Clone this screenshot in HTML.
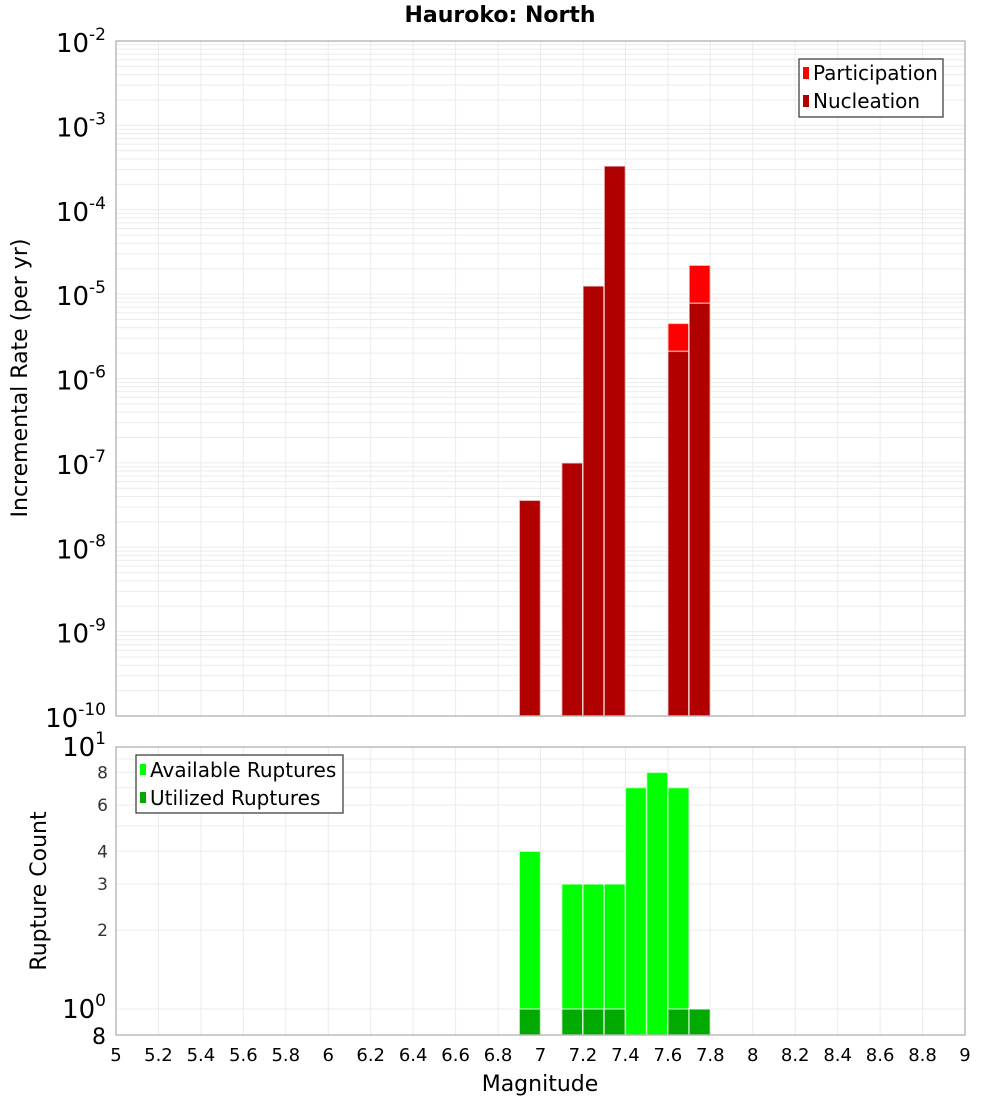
<!DOCTYPE html>
<html><head><meta charset="utf-8"><style>
body{margin:0;background:#fff;font-family:"Liberation Sans","DejaVu Sans",sans-serif;}
svg text{font-family:"DejaVu Sans","Liberation Sans",sans-serif;}
</style></head><body>
<svg id="chart" width="1000" height="1100" xmlns="http://www.w3.org/2000/svg">
<text x="500" y="22" text-anchor="middle" font-size="22" font-weight="bold">Hauroko: North</text>
<text transform="translate(27,378) rotate(-90)" text-anchor="middle" font-size="22">Incremental Rate (per yr)</text>
<text transform="translate(46,891) rotate(-90)" text-anchor="middle" font-size="22">Rupture Count</text>
<text x="540" y="1091" text-anchor="middle" font-size="22">Magnitude</text>
<g id="gtop"></g><g id="gbot"></g>
<g>
<rect x="799" y="59" width="144" height="58" fill="#fff" stroke="#333" stroke-width="1.2"/>
<rect x="803" y="67" width="6" height="12" fill="#ff0000"/>
<text x="813" y="80" font-size="20">Participation</text>
<rect x="803" y="95" width="6" height="12" fill="#b00000"/>
<text x="813" y="108" font-size="20">Nucleation</text>
</g>
<g>
<rect x="136" y="755" width="207" height="58" fill="#fff" stroke="#333" stroke-width="1.2"/>
<rect x="140" y="764" width="6" height="11" fill="#00ff00"/>
<text x="150" y="777" font-size="20">Available Ruptures</text>
<rect x="140" y="792" width="6" height="11" fill="#00aa00"/>
<text x="150" y="805" font-size="20">Utilized Ruptures</text>
</g>
</svg>
<script>
const mags = [6.95, 7.15, 7.25, 7.35, 7.45, 7.55, 7.65, 7.75];
const participation = [3.6e-8, 1.0e-7, 1.25e-5, 3.3e-4, 0, 0, 4.5e-6, 2.2e-5];
const nucleation = [3.6e-8, 1.0e-7, 1.25e-5, 3.3e-4, 0, 0, 2.1e-6, 7.8e-6];
const available = [4, 3, 3, 3, 7, 8, 7, 0];
const utilized = [1, 1, 1, 1, 0, 0, 1, 1];
const xTicks = ["5","5.2","5.4","5.6","5.8","6","6.2","6.4","6.6","6.8","7","7.2","7.4","7.6","7.8","8","8.2","8.4","8.6","8.8","9"];
const topExps = [-2,-3,-4,-5,-6,-7,-8,-9,-10];
const botTicks = [2,3,4,6,8];

const NS="http://www.w3.org/2000/svg";
const X0=116,X1=965;
const xScale=m=>X0+(m-5)/4*(X1-X0);
const TY0=41,TY1=716;
const yTop=v=>TY0+(-2-Math.log10(v))/8*(TY1-TY0);
const BY0=747,BY1=1035;
const yBot=v=>1009-Math.log10(v)*262;
function mk(p,tag,a){const e=document.createElementNS(NS,tag);for(const k in a)e.setAttribute(k,a[k]);p.appendChild(e);return e;}
const gTop=document.getElementById('gtop'),gBot=document.getElementById('gbot');

for(let d=-10;d<-2;d++)for(let k=1;k<10;k++){const yy=yTop(k*Math.pow(10,d));const l=mk(gTop,'line',{x1:X0,x2:X1,y1:yy,y2:yy,stroke:'#ebebeb','stroke-width':1});

}
xTicks.forEach(t=>{const xx=xScale(+t);const l=mk(gTop,'line',{x1:xx,x2:xx,y1:TY0,y2:TY1,stroke:'#ebebeb'});


const l2=mk(gBot,'line',{x1:xx,x2:xx,y1:BY0,y2:BY1,stroke:'#ebebeb'});


const tx=mk(gBot,'text',{x:xx,y:1061,'text-anchor':'middle','font-size':18});tx.textContent=t;

});
topExps.forEach(e=>{const yy=yTop(Math.pow(10,e));const t=mk(gTop,'text',{x:106,y:yy+11,'text-anchor':'end','font-size':26});
t.innerHTML='10<tspan dy="-12" font-size="17">'+e+'</tspan>';

});
for(let k=1;k<=10;k++){const yy=yBot(k);const l=mk(gBot,'line',{x1:X0,x2:X1,y1:yy,y2:yy,stroke:'#ebebeb'});

}
botTicks.forEach(v=>{const t=mk(gBot,'text',{x:108,y:yBot(v)+6,'text-anchor':'end','font-size':17,fill:'#333'});t.textContent=v;

});
[['1',yBot(10)+9],['0',yBot(1)+9]].forEach(([e,yy])=>{const t=mk(gBot,'text',{x:106,y:yy,'text-anchor':'end','font-size':26});
t.innerHTML='10<tspan dy="-12" font-size="17">'+e+'</tspan>';

});
{const t=mk(gBot,'text',{x:106,y:1044,'text-anchor':'end','font-size':22});t.textContent='8';

}

function bar(g,m,yv,ybase,fill,name){const x0=xScale(m-0.05),x1=xScale(m+0.05);const r=mk(g,'rect',{x:x0,y:yv,width:x1-x0,height:ybase-yv,fill:fill,stroke:'#fff','stroke-opacity':0.6,'stroke-width':1.5});

}
mags.forEach((m,i)=>{
 if(participation[i]>0)bar(gTop,m,yTop(participation[i]),TY1,'#ff0000','participation-bar');
 if(nucleation[i]>0)bar(gTop,m,yTop(nucleation[i]),TY1,'#b00000','nucleation-bar');
 if(available[i]>0)bar(gBot,m,yBot(available[i]),BY1,'#00ff00','available-bar');
 if(utilized[i]>0)bar(gBot,m,yBot(utilized[i]),BY1,'#00aa00','utilized-bar');
});
{const f=mk(gTop,'rect',{x:X0,y:TY0,width:X1-X0,height:TY1-TY0,fill:'none',stroke:'#aaa','stroke-width':1.2});


const f2=mk(gBot,'rect',{x:X0,y:BY0,width:X1-X0,height:BY1-BY0,fill:'none',stroke:'#aaa','stroke-width':1.2});

}
</script>
</body></html>
